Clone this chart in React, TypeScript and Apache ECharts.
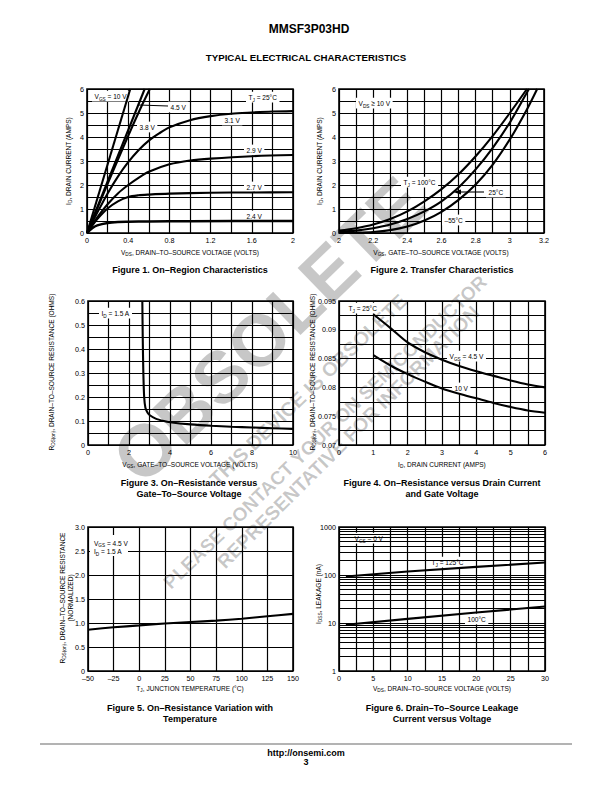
import React, { useEffect, useRef } from 'react';
import * as echarts from 'echarts';

const SANS = "'Liberation Sans', Arial, Helvetica, sans-serif";

// ---------- Figure 1: On-Region Characteristics ----------
const fig1XTicks = ['0', '0.4', '0.8', '1.2', '1.6', '2'];
const fig1YTicks = ['0', '1', '2', '3', '4', '5', '6'];
const fig1Vgs10 = [[0, 0], [0.42, 6]];
const fig1Vgs45 = [[0, 0], [0.56, 6]];
const fig1Vgs38 = [[0, 0], [0.2, 2.05], [0.4, 4.05], [0.52, 5.2], [0.61, 6]];
const fig1Vgs31 = [[0, 0], [0.1, 0.85], [0.2, 1.65], [0.3, 2.35], [0.4, 2.95], [0.5, 3.45], [0.6, 3.85], [0.7, 4.15], [0.8, 4.4], [1.0, 4.7], [1.2, 4.87], [1.4, 4.97], [1.6, 5.02], [1.8, 5.06], [2.0, 5.08]];
const fig1Vgs29 = [[0, 0], [0.1, 0.65], [0.2, 1.2], [0.3, 1.65], [0.4, 2.0], [0.5, 2.3], [0.6, 2.55], [0.8, 2.86], [1.0, 3.02], [1.2, 3.1], [1.6, 3.2], [2.0, 3.25]];
const fig1Vgs27 = [[0, 0], [0.05, 0.3], [0.1, 0.58], [0.2, 1.02], [0.3, 1.32], [0.4, 1.5], [0.5, 1.57], [0.6, 1.6], [0.8, 1.64], [1.2, 1.68], [1.6, 1.69], [2.0, 1.7]];
const fig1Vgs24 = [[0, 0], [0.05, 0.2], [0.1, 0.32], [0.2, 0.42], [0.3, 0.46], [0.4, 0.47], [0.6, 0.48], [1.0, 0.49], [2.0, 0.5]];

// ---------- Figure 2: Transfer Characteristics ----------
const fig2XTicks = ['2', '2.2', '2.4', '2.6', '2.8', '3', '3.2'];
const fig2YTicks = ['0', '1', '2', '3', '4', '5', '6'];
const fig2T100 = [[2.0, 0.1], [2.1, 0.2], [2.2, 0.35], [2.3, 0.58], [2.4, 0.9], [2.5, 1.32], [2.6, 1.83], [2.7, 2.45], [2.8, 3.2], [2.9, 4.05], [3.0, 5.0], [3.1, 6.0]];
const fig2T25 = [[2.0, 0.05], [2.1, 0.1], [2.2, 0.2], [2.3, 0.35], [2.4, 0.58], [2.5, 0.9], [2.6, 1.32], [2.7, 1.9], [2.8, 2.65], [2.9, 3.55], [3.0, 4.6], [3.1, 5.85], [3.112, 6]];
const fig2Tm55 = [[2.0, 0], [2.1, 0.01], [2.2, 0.04], [2.3, 0.12], [2.4, 0.27], [2.5, 0.52], [2.6, 0.88], [2.7, 1.38], [2.8, 2.02], [2.9, 2.85], [3.0, 3.9], [3.1, 5.15], [3.16, 6]];

// ---------- Figure 3: On-Resistance vs Gate-To-Source Voltage ----------
const fig3XTicks = ['0', '2', '4', '6', '8', '10'];
const fig3YTicks = ['0', '0.1', '0.2', '0.3', '0.4', '0.5', '0.6'];
const fig3Rds = [[2.65, 0.6], [2.67, 0.45], [2.7, 0.3], [2.74, 0.2], [2.8, 0.155], [2.9, 0.135], [3.0, 0.125], [3.3, 0.11], [3.7, 0.1], [4, 0.095], [5, 0.086], [6, 0.08], [7, 0.076], [8, 0.073], [9, 0.07], [10, 0.067]];

// ---------- Figure 4: On-Resistance vs Drain Current ----------
const fig4XTicks = ['0', '1', '2', '3', '4', '5', '6'];
const fig4YTicks = ['0.07', '0.075', '0.08', '0.085', '0.09', '0.095'];
const fig4Vgs45 = [[1, 0.0927], [1.5, 0.0903], [2, 0.0878], [2.5, 0.0861], [3, 0.0848], [3.5, 0.0837], [4, 0.0828], [4.5, 0.082], [5, 0.0812], [5.5, 0.0805], [6, 0.08]];
const fig4Vgs10 = [[1, 0.0856], [1.5, 0.0838], [2, 0.0823], [2.5, 0.081], [3, 0.0798], [3.5, 0.0789], [4, 0.0781], [4.5, 0.0773], [5, 0.0766], [5.5, 0.076], [6, 0.0756]];

// ---------- Figure 5: On-Resistance vs Temperature ----------
const fig5XTicks = ['–50', '–25', '0', '25', '50', '75', '100', '125', '150'];
const fig5YTicks = ['0', '0.5', '1.0', '1.5', '2.0', '2.5', '3.0'];
const fig5Rds = [[-50, 0.86], [-25, 0.91], [0, 0.95], [25, 0.99], [50, 1.02], [75, 1.05], [100, 1.09], [125, 1.14], [150, 1.19]];

// ---------- Figure 6: Drain-To-Source Leakage ----------
const fig6XTicks = ['0', '5', '10', '15', '20', '25', '30'];
const fig6YTicks = ['1', '10', '100', '1000'];
const fig6MinorGrid = [2, 3, 4, 5, 6, 7, 8, 9, 20, 30, 40, 50, 60, 70, 80, 90, 200, 300, 400, 500, 600, 700, 800, 900];
const fig6T125 = [[1, 93], [10, 118], [20, 148], [30, 182]];
const fig6T100 = [[1, 9.2], [10, 12.2], [20, 16.5], [30, 22]];

const grids = [
  { left: 87, top: 89, width: 206, height: 144 },
  { left: 339, top: 89, width: 205, height: 144 },
  { left: 88, top: 301, width: 205, height: 144 },
  { left: 339, top: 301, width: 206, height: 144 },
  { left: 88, top: 527, width: 205, height: 144 },
  { left: 339, top: 527, width: 206, height: 144 },
];

const GRID_W = 1.2;
const TICK_FONT = 7.2;

function vAxis(idx: number, kind: string, min: number, max: number, interval: number, minor: number, labels: string[]) {
  return {
    type: 'value', gridIndex: idx, min, max, interval,
    axisLine: { show: false }, axisTick: { show: false },
    splitLine: { show: true, lineStyle: { color: '#000', width: GRID_W } },
    minorTick: { show: false, splitNumber: minor || 5 },
    minorSplitLine: { show: !!minor, lineStyle: { color: '#000', width: GRID_W } },
    axisLabel: {
      show: true, margin: kind === 'x' ? 4 : 3, fontSize: TICK_FONT, fontFamily: SANS, color: '#000',
      showMinLabel: true, showMaxLabel: true, hideOverlap: false,
      formatter: (v: number) => labels[Math.round((v - min) / interval)] ?? '',
    },
  };
}

function line(idx: number, data: number[][], width = 2.1, smooth: any = 0.3, extra: any = {}) {
  return {
    type: 'line', xAxisIndex: idx, yAxisIndex: idx, data, symbol: 'none', showSymbol: false,
    smooth, silent: true, z: 3, lineStyle: { color: '#000', width }, emphasis: { disabled: true }, ...extra,
  };
}

function R(s: string) {
  return s.split('_').map((p, i) => (p ? `{${i % 2 ? 's' : 'm'}|${p}}` : '')).join('');
}

function rich(size: number, bold: boolean, family: string) {
  const fw = bold ? 'bold' : 'normal';
  return {
    m: { fontSize: size, fontFamily: family, fontWeight: fw, fill: '#000', lineHeight: size * 1.25 },
    s: { fontSize: size * 0.72, fontFamily: family, fontWeight: fw, fill: '#000', lineHeight: size * 0.7, verticalAlign: 'bottom' },
  };
}

// annotation text; default is a condensed look (horizontal squeeze) like the datasheet's narrow face
function txt(x: number, y: number, s: string, o: any = {}) {
  const size = o.size ?? 7.8;
  const fam = o.family ?? SANS;
  const style: any = {
    text: R(s), rich: rich(size, !!o.bold, fam), align: o.align ?? 'center', verticalAlign: o.va ?? 'middle',
  };
  if (o.bg) { style.backgroundColor = '#fff'; style.padding = [1, 3, 0, 3]; }
  return { type: 'text', x, y, rotation: o.rot ?? 0, scaleX: o.sx ?? 0.84, z: o.z ?? 1, silent: true, style };
}

function seg(x1: number, y1: number, x2: number, y2: number, stroke = '#000', w = 1.1) {
  return { type: 'line', z: 1, silent: true, shape: { x1, y1, x2, y2 }, style: { stroke, lineWidth: w } };
}

const ROT90 = Math.PI / 2;
const deg = (d: number) => (d * Math.PI) / 180;

function buildOption() {
  const xAxis = [
    vAxis(0, 'x', 0, 2, 0.4, 2, fig1XTicks),
    vAxis(1, 'x', 2, 3.2, 0.2, 2, fig2XTicks),
    vAxis(2, 'x', 0, 10, 2, 2, fig3XTicks),
    vAxis(3, 'x', 0, 6, 1, 2, fig4XTicks),
    vAxis(4, 'x', -50, 150, 25, 0, fig5XTicks),
    vAxis(5, 'x', 0, 30, 5, 2, fig6XTicks),
  ];
  const yAxis: any[] = [
    vAxis(0, 'y', 0, 6, 1, 2, fig1YTicks),
    vAxis(1, 'y', 0, 6, 1, 2, fig2YTicks),
    vAxis(2, 'y', 0, 0.6, 0.1, 2, fig3YTicks),
    vAxis(3, 'y', 0.07, 0.095, 0.005, 2, fig4YTicks),
    vAxis(4, 'y', 0, 3, 0.5, 0, fig5YTicks),
    {
      type: 'log', gridIndex: 5, min: 1, max: 1000, logBase: 10,
      axisLine: { show: false }, axisTick: { show: false },
      splitLine: { show: true, lineStyle: { color: '#000', width: GRID_W } },
      minorSplitLine: { show: false },
      axisLabel: {
        show: true, margin: 3, fontSize: TICK_FONT, fontFamily: SANS, color: '#000', showMinLabel: true, showMaxLabel: true,
        formatter: (v: number) => fig6YTicks[Math.round(Math.log10(v))] ?? '',
      },
    },
  ];

  const series = [
    line(0, fig1Vgs10, 2.1, false),
    line(0, fig1Vgs45, 2.1, false),
    line(0, fig1Vgs38, 2.1, 0.3),
    line(0, fig1Vgs31),
    line(0, fig1Vgs29),
    line(0, fig1Vgs27),
    line(0, fig1Vgs24, 2.5),
    line(1, fig2T100),
    line(1, fig2T25),
    line(1, fig2Tm55),
    line(2, fig3Rds, 2.1, 0.25),
    line(3, fig4Vgs45),
    line(3, fig4Vgs10),
    line(4, fig5Rds),
    line(5, fig6T125, 2.1, false, {
      markLine: {
        silent: true, symbol: 'none', animation: false, label: { show: false },
        lineStyle: { color: '#000', width: 1, type: 'solid' },
        emphasis: { disabled: true },
        data: fig6MinorGrid.map((v) => ({ yAxis: v })),
      },
    }),
    line(5, fig6T100, 2.1, false),
  ];

  const cap = { size: 9, bold: true, family: SANS, z: 2, sx: 1 };
  const head = (size: number) => ({ size, bold: true, family: SANS, sx: 1 });
  const wm = 'rgba(0,0,0,0.22)';
  const wmText = (x: number, y: number, s: string, size: number, rot: number) => ({
    type: 'text', x, y, rotation: deg(rot), z: 20, silent: true,
    style: { text: s, fontSize: size, fontWeight: 'bold', fontFamily: SANS, fill: wm, align: 'center', verticalAlign: 'middle' },
  });

  const graphic: any[] = [
    // page header
    txt(309, 29, 'MMSF3P03HD', head(12)),
    txt(306, 57, 'TYPICAL ELECTRICAL CHARACTERISTICS', head(9.7)),

    // Figure 1 labels
    txt(92, 96, 'V_GS_ = 10 V', { align: 'left', bg: true }),
    seg(139, 105, 168, 106),
    txt(168, 107, '4.5 V', { align: 'left', bg: true }),
    txt(137, 127, '3.8 V', { align: 'left', bg: true }),
    txt(246, 97, 'T_J_ = 25°C', { align: 'left', bg: true }),
    txt(222, 120, '3.1 V', { align: 'left', bg: true }),
    txt(244, 150, '2.9 V', { align: 'left', bg: true }),
    txt(244, 187, '2.7 V', { align: 'left', bg: true }),
    txt(244, 216, '2.4 V', { align: 'left', bg: true }),
    txt(190, 252, 'V_DS_, DRAIN–TO–SOURCE VOLTAGE (VOLTS)'),
    txt(68, 161, 'I_D_, DRAIN CURRENT (AMPS)', { rot: ROT90 }),
    txt(190, 270, 'Figure 1. On–Region Characteristics', cap),

    // Figure 2 labels
    txt(356, 103, 'V_DS_ ≥ 10 V', { align: 'left', bg: true }),
    txt(401, 182, 'T_J_ = 100°C', { align: 'left', bg: true }),
    seg(457, 192, 484, 192),
    { type: 'polygon', z: 4, silent: true, shape: { points: [[453, 192], [461, 189.5], [461, 194.5]] }, style: { fill: '#000' } },
    txt(486, 192, '25°C', { align: 'left', bg: true }),
    txt(442, 220, '–55°C', { align: 'left', bg: true }),
    txt(441, 252, 'V_GS_, GATE–TO–SOURCE VOLTAGE (VOLTS)'),
    txt(319, 161, 'I_D_, DRAIN CURRENT (AMPS)', { rot: ROT90 }),
    txt(442, 270, 'Figure 2. Transfer Characteristics', cap),

    // Figure 3 labels
    txt(99, 313, 'I_D_ = 1.5 A', { align: 'left', bg: true }),
    txt(190, 464, 'V_GS_, GATE–TO–SOURCE VOLTAGE (VOLTS)'),
    txt(51, 372, 'R_DS(on)_, DRAIN–TO–SOURCE RESISTANCE (OHMS)', { rot: ROT90 }),
    txt(189, 483, 'Figure 3. On–Resistance versus', cap),
    txt(189, 494, 'Gate–To–Source Voltage', cap),

    // Figure 4 labels
    txt(346, 308, 'T_J_ = 25°C', { align: 'left', bg: true }),
    txt(447, 356, 'V_GS_ = 4.5 V', { align: 'left', bg: true }),
    txt(452, 388, '10 V', { align: 'left', bg: true }),
    txt(442, 464, 'I_D_, DRAIN CURRENT (AMPS)'),
    txt(312, 372, 'R_DS(on)_, DRAIN–TO–SOURCE RESISTANCE (OHMS)', { rot: ROT90 }),
    txt(442, 483, 'Figure 4. On–Resistance versus Drain Current', cap),
    txt(442, 494, 'and Gate Voltage', cap),

    // Figure 5 labels
    { type: 'rect', z: 1, silent: true, shape: { x: 90, y: 535, width: 38, height: 21 }, style: { fill: '#fff' } },
    txt(94, 543, 'V_GS_ = 4.5 V', { align: 'left' }),
    txt(94, 551.5, 'I_D_ = 1.5 A', { align: 'left' }),
    txt(190, 688, 'T_J_, JUNCTION TEMPERATURE (°C)'),
    txt(62, 598, 'R_DS(on)_, DRAIN–TO–SOURCE RESISTANCE', { rot: ROT90 }),
    txt(70.5, 598, '(NORMALIZED)', { rot: ROT90 }),
    txt(190, 708, 'Figure 5. On–Resistance Variation with', cap),
    txt(190, 719, 'Temperature', cap),

    // Figure 6 labels
    txt(352, 538, 'V_GS_ = 0 V', { align: 'left', bg: true }),
    txt(429, 562, 'T_J_ = 125°C', { align: 'left', bg: true }),
    txt(465, 619, '100°C', { align: 'left', bg: true }),
    txt(442, 688, 'V_DS_, DRAIN–TO–SOURCE VOLTAGE (VOLTS)'),
    txt(318, 594, 'I_DSS_, LEAKAGE (nA)', { rot: ROT90 }),
    txt(442, 708, 'Figure 6. Drain–To–Source Leakage', cap),
    txt(442, 719, 'Current versus Voltage', cap),

    // footer
    seg(40, 744, 572, 744, '#9a9a9a', 1.5),
    txt(306, 753, 'http://onsemi.com', head(9)),
    txt(306, 762, '3', head(9)),

    // watermark
    wmText(269, 330, 'OBSOLETE', 73, 44),
    wmText(308, 390, 'THIS DEVICE IS OBSOLETE', 20, 44),
    wmText(325, 432, 'PLEASE CONTACT YOUR ON SEMICONDUCTOR', 19, 44),
    wmText(348, 437, 'REPRESENTATIVE FOR INFORMATION', 19.5, 45),
  ];

  return {
    animation: false,
    backgroundColor: '#fff',
    grid: grids.map((g) => ({ ...g, show: true, borderColor: '#000', borderWidth: 1.6, backgroundColor: 'transparent', containLabel: false })),
    xAxis,
    yAxis,
    series,
    graphic,
  };
}

export default function App() {
  const ref = useRef<HTMLDivElement>(null);
  useEffect(() => {
    if (!ref.current) return;
    const chart = echarts.init(ref.current, null, { renderer: 'svg', width: 612, height: 792 });
    chart.setOption(buildOption() as any);
    return () => chart.dispose();
  }, []);
  return <div ref={ref} style={{ position: 'absolute', left: 0, top: 0, width: 612, height: 792, background: '#fff' }} />;
}
